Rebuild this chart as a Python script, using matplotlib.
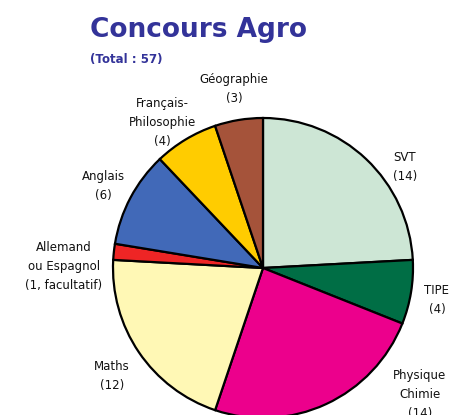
import matplotlib
matplotlib.use("Agg")
import matplotlib.pyplot as plt

# ── Data ──────────────────────────────────────────────────────────────────
subjects = ["SVT", "TIPE", "Physique\nChimie", "Maths", "Allemand\nou Espagnol",
            "Anglais", "Français-\nPhilosophie", "Géographie"]
coeffs = [14, 4, 14, 12, 1, 6, 4, 3]
count_labels = ["(14)", "(4)", "(14)", "(12)", "(1, facultatif)", "(6)", "(4)", "(3)"]
colors = ["#cde6d5", "#006e45", "#ec008c", "#fff8b5", "#ee2525",
          "#4169b8", "#ffcc00", "#a5533a"]

# label anchor points (centre of the first line), pixels from the top-left
label_xy = [(405, 158), (437, 291), (420, 376), (112, 367), (64, 248),
            (103, 177), (162, 104), (234, 80)]

W, H = 454, 415
CX, CY, R = 263, 268, 150

fig = plt.figure(figsize=(W / 100, H / 100), dpi=100)
ax = fig.add_axes([0, 0, 1, 1])

ax.pie(coeffs, colors=colors, startangle=90, counterclock=False,
       center=(CX, H - CY), radius=R, frame=True,
       wedgeprops=dict(edgecolor="black", linewidth=1.6))
ax.set_xlim(0, W)
ax.set_ylim(0, H)
ax.set_aspect("equal")
ax.axis("off")

for name, cnt, (x, y) in zip(subjects, count_labels, label_xy):
    ax.text(x, H - y + 7, name + "\n" + cnt, ha="center", va="top",
            fontsize=8.5, linespacing=1.6, color="#111111")

fig.text(90 / W, 1 - 30 / H, "Concours Agro", ha="left", va="center",
         fontsize=19, fontweight="bold", color="#333399")
fig.text(90 / W, 1 - 59 / H, "(Total : 57)", ha="left", va="center",
         fontsize=8.5, fontweight="bold", color="#333399")

fig.savefig("out.png", dpi=100)
